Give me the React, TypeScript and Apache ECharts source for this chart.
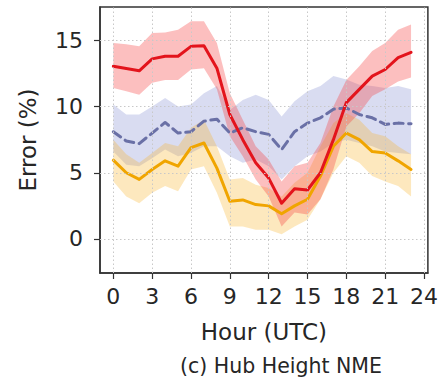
import React, { useEffect, useRef } from "react";
import * as echarts from "echarts";

const hours = [0, 1, 2, 3, 4, 5, 6, 7, 8, 9, 10, 11, 12, 13, 14, 15, 16, 17, 18, 19, 20, 21, 22, 23];

const redMean = [13.05, 12.87, 12.7, 13.6, 13.8, 13.8, 14.55, 14.6, 12.9, 9.4, 7.5, 5.75, 4.6, 2.7, 3.8, 3.7, 5.0, 7.5, 10.3, 11.3, 12.3, 12.8, 13.7, 14.1];
const redUpper = [14.8, 14.7, 14.55, 15.55, 15.6, 15.8, 16.45, 16.45, 14.8, 11.0, 9.0, 7.0, 6.0, 4.35, 5.5, 5.75, 7.25, 10.0, 12.0, 13.05, 14.2, 14.8, 15.8, 16.2];
const redLower = [11.4, 11.15, 10.9, 11.8, 12.0, 12.0, 12.8, 12.9, 11.3, 7.75, 6.25, 4.5, 3.2, 0.95, 2.0, 1.85, 3.0, 5.25, 8.5, 9.5, 10.8, 11.3, 11.9, 12.2];

const blueMean = [8.1, 7.4, 7.2, 8.0, 8.8, 8.0, 8.1, 8.9, 9.05, 8.0, 8.4, 8.1, 7.9, 6.75, 8.1, 8.75, 9.15, 9.8, 9.9, 9.4, 9.15, 8.65, 8.75, 8.7];
const blueUpper = [10.15, 9.4, 9.4, 10.0, 10.65, 10.0, 10.15, 11.0, 11.55, 9.75, 10.5, 10.9, 10.5, 9.25, 10.4, 11.15, 11.55, 12.3, 12.05, 11.65, 11.55, 11.4, 11.55, 11.3];
const blueLower = [6.6, 5.6, 5.5, 6.1, 6.75, 6.25, 6.5, 7.0, 7.0, 6.25, 5.75, 6.0, 5.5, 4.5, 5.5, 6.25, 6.6, 7.25, 7.5, 7.25, 7.0, 6.6, 6.5, 6.4];

const yellowMean = [5.95, 5.0, 4.5, 5.25, 5.9, 5.5, 6.9, 7.25, 5.35, 2.85, 2.95, 2.6, 2.5, 1.9, 2.5, 3.0, 4.75, 7.0, 8.0, 7.5, 6.6, 6.5, 5.9, 5.25];
const yellowUpper = [7.5, 6.4, 5.75, 6.5, 7.25, 7.0, 8.4, 9.0, 7.0, 4.5, 4.6, 4.1, 3.85, 3.2, 4.25, 5.0, 7.0, 8.75, 9.5, 9.0, 8.0, 7.75, 7.0, 6.4];
const yellowLower = [4.35, 3.2, 2.7, 3.5, 4.0, 3.6, 5.25, 5.5, 3.5, 0.95, 0.95, 0.7, 0.7, 0.35, 0.95, 1.45, 3.0, 5.0, 6.25, 5.75, 4.75, 4.35, 4.0, 3.2];

const xTicks = [0, 3, 6, 9, 12, 15, 18, 21, 24];
const yTicks = [0, 5, 10, 15];

const xTitle = "Hour (UTC)";
const yTitle = "Error (%)";
const caption = "(c) Hub Height NME";

const FONT = "DejaVu Sans";
const TEXT = "#262626";

function pairs(vals: number[]) {
  return hours.map((h, i) => [h, vals[i]]);
}

function band(name: string, lower: number[], upper: number[], color: string, withGrid = false) {
  const s: any = {
    type: "custom",
    name: name + "-band",
    data: hours.map((h, i) => [h, lower[i], upper[i]]),
    encode: { x: 0, y: [1, 2] },
    silent: true,
    z: 1,
    renderItem: (params: any, api: any) => {
      if (params.dataIndex !== 0) return null;
      const top = hours.map((h, i) => api.coord([h, upper[i]]));
      const bottom = hours.map((h, i) => api.coord([h, lower[i]])).reverse();
      return {
        type: "polygon",
        shape: { points: top.concat(bottom) },
        style: { fill: color },
        silent: true,
      };
    },
  };
  if (withGrid) {
    s.markLine = {
      silent: true,
      symbol: "none",
      label: { show: false },
      lineStyle: { color: "#c8c8c8", width: 1, type: [1.5, 2.5] },
      data: [
        ...xTicks.map((v) => ({ xAxis: v })),
        ...yTicks.map((v) => ({ yAxis: v })),
      ],
    };
  }
  return s;
}

function meanLine(name: string, vals: number[], color: string, dashed = false) {
  return {
    type: "line",
    name,
    data: pairs(vals),
    symbol: "none",
    lineStyle: { color, width: 3, type: dashed ? [9, 5.5] : "solid", cap: "round", join: "round" },
    silent: true,
    z: 3,
  };
}

export default function App() {
  const ref = useRef<HTMLDivElement>(null);
  useEffect(() => {
    if (!ref.current) return;
    const chart = echarts.init(ref.current, undefined, { renderer: "svg" });
    chart.setOption({
      animation: false,
      grid: {
        left: 100,
        right: 12,
        top: 7,
        bottom: 111,
        show: true,
        borderColor: "#333",
        borderWidth: 1.5,
        backgroundColor: "transparent",
      },
      title: {
        text: caption,
        left: 276,
        top: 350,
        textAlign: "center",
        textStyle: { fontFamily: FONT, fontSize: 20.5, fontWeight: "normal", color: TEXT },
      },
      xAxis: {
        type: "value",
        min: -1.03,
        max: 24.3,
        name: xTitle,
        nameLocation: "middle",
        nameGap: 47,
        nameTextStyle: { fontFamily: FONT, fontSize: 23, color: TEXT },
        axisLine: { show: true, onZero: false, lineStyle: { color: "#333", width: 1.5 } },
        axisTick: { show: true, customValues: xTicks, length: 6, lineStyle: { color: "#333", width: 1.2 } },
        axisLabel: { customValues: xTicks, margin: 12, fontFamily: FONT, fontSize: 22, color: TEXT },
        splitLine: { show: false },
      },
      yAxis: {
        type: "value",
        min: -2.57,
        max: 17.52,
        name: yTitle,
        nameLocation: "middle",
        nameGap: 61,
        nameTextStyle: { fontFamily: FONT, fontSize: 23, color: TEXT },
        axisLine: { show: true, onZero: false, lineStyle: { color: "#333", width: 1.5 } },
        axisTick: { show: true, customValues: yTicks, length: 6, lineStyle: { color: "#333", width: 1.2 } },
        axisLabel: { customValues: yTicks, margin: 17, fontFamily: FONT, fontSize: 22, color: TEXT },
        splitLine: { show: false },
      },
      series: [
        band("blue", blueLower, blueUpper, "rgba(120,128,205,0.28)", true),
        band("yellow", yellowLower, yellowUpper, "rgba(248,180,40,0.30)"),
        band("red", redLower, redUpper, "rgba(245,60,60,0.33)"),
        meanLine("blue", blueMean, "#6a70a6", true),
        meanLine("yellow", yellowMean, "#f0a500"),
        meanLine("red", redMean, "#e3141c"),
      ],
    });
    return () => chart.dispose();
  }, []);
  return (
    <div
      ref={ref}
      style={{ position: "fixed", left: 0, top: 0, width: 441, height: 384, background: "#fff" }}
    />
  );
}
